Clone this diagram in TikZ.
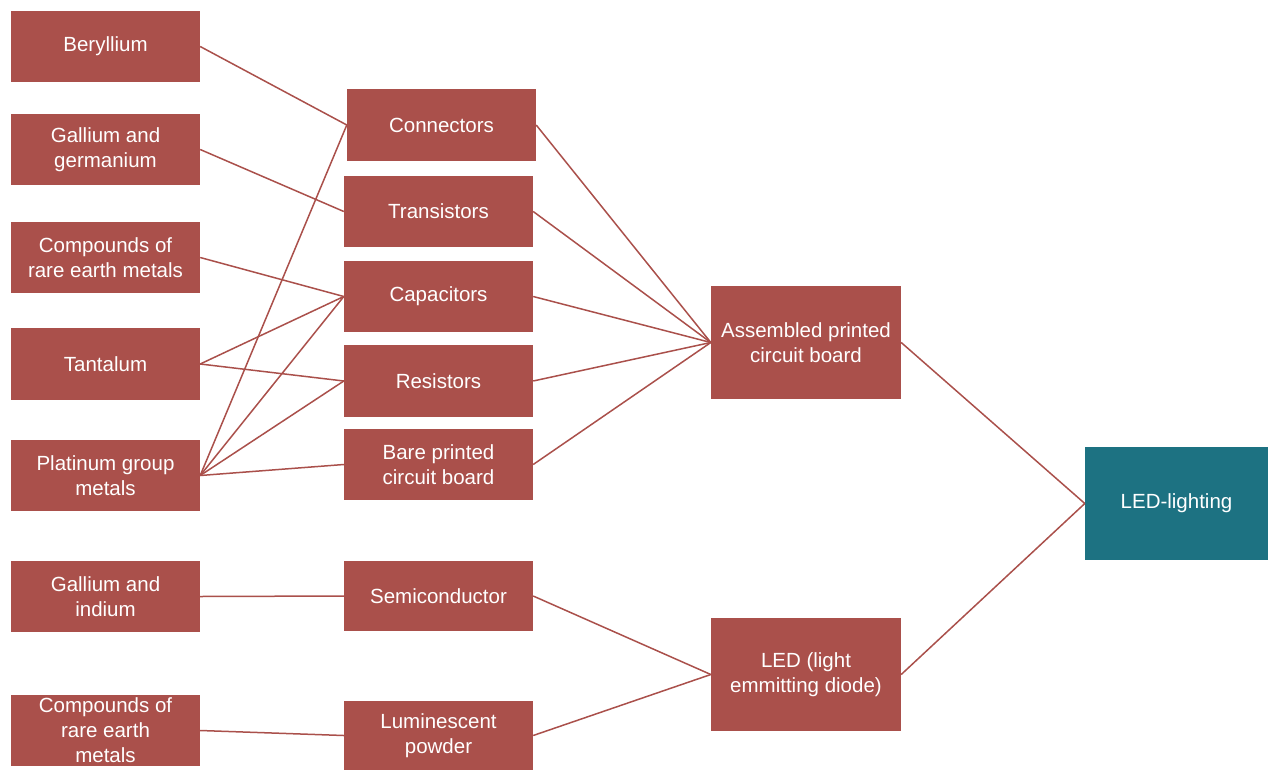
\documentclass[tikz,border=0pt]{standalone}
\usepackage{fontspec}
\setmainfont{Liberation Sans}
\definecolor{boxred}{HTML}{AA504B}
\definecolor{boxteal}{HTML}{1D7282}
\begin{document}
\begin{tikzpicture}[x=1pt,y=-1pt,
  box/.style={fill=boxred, draw=none, text=white, align=center, inner sep=0pt,
    font=\fontsize{20.5}{25}\selectfont, minimum width=189pt, minimum height=71pt},
  big/.style={box, minimum height=113pt},
  final/.style={box, fill=boxteal, minimum width=183pt, minimum height=113pt},
  link/.style={draw=boxred, line width=1.5pt}]
\useasboundingbox (0,0) rectangle (1268,771);
% left column
\node[box] (be) at (105.5,46.5) {Beryllium};
\node[box] (gg) at (105.5,149.5) {Gallium and\\germanium};
\node[box] (cr) at (105.5,257.5) {Compounds of\\rare earth metals};
\node[box, minimum height=72pt] (ta) at (105.5,364) {Tantalum};
\node[box] (pg) at (105.5,475.5) {Platinum group\\metals};
\node[box] (gi) at (105.5,596.5) {Gallium and\\indium};
\node[box] (cr2) at (105.5,730.5) {Compounds of\\rare earth\\metals};
% middle column
\node[box, minimum height=72pt] (co) at (441.5,125) {Connectors};
\node[box] (tr) at (438.5,211.5) {Transistors};
\node[box] (ca) at (438.5,296.5) {Capacitors};
\node[box, minimum height=72pt] (re) at (438.5,381) {Resistors};
\node[box] (bp) at (438.5,464.5) {Bare printed\\circuit board};
\node[box, minimum height=70pt] (se) at (438.5,596) {Semiconductor};
\node[box, minimum height=69pt] (lu) at (438.5,735.5) {Luminescent\\powder};
% right
\node[big, minimum width=190pt] (ap) at (806,342.5) {Assembled printed\\circuit board};
\node[big, minimum width=190pt] (led) at (806,674.5) {LED (light\\emmitting diode)};
\node[final] (ll) at (1176.5,503.5) {LED-lighting};
% connectors
\draw[link] (be.east) -- (co.west);
\draw[link] (gg.east) -- (tr.west);
\draw[link] (cr.east) -- (ca.west);
\draw[link] (ta.east) -- (ca.west);
\draw[link] (ta.east) -- (re.west);
\draw[link] (pg.east) -- (co.west);
\draw[link] (pg.east) -- (ca.west);
\draw[link] (pg.east) -- (re.west);
\draw[link] (pg.east) -- (bp.west);
\draw[link] (gi.east) -- (se.west);
\draw[link] (cr2.east) -- (lu.west);
\draw[link] (co.east) -- (ap.west);
\draw[link] (tr.east) -- (ap.west);
\draw[link] (ca.east) -- (ap.west);
\draw[link] (re.east) -- (ap.west);
\draw[link] (bp.east) -- (ap.west);
\draw[link] (se.east) -- (led.west);
\draw[link] (lu.east) -- (led.west);
\draw[link] (ap.east) -- (ll.west);
\draw[link] (led.east) -- (ll.west);
\end{tikzpicture}
\end{document}
